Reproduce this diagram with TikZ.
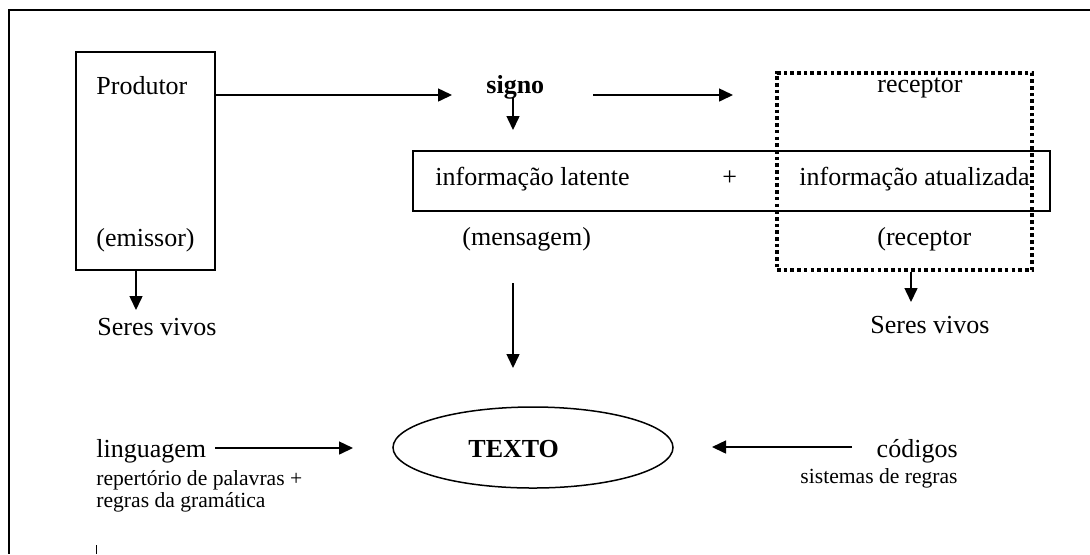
\documentclass[tikz,border=0pt]{standalone}
\usepackage{fontspec}
\setmainfont{Liberation Serif}
\usetikzlibrary{arrows.meta,shapes.geometric,fit}
\begin{document}
\begin{tikzpicture}[x=0.5pt,y=-0.5pt,
  lbl/.style={font=\fontsize{13}{15}\selectfont, inner sep=0, anchor=base west},
  bold/.style={lbl, font=\fontsize{13}{15}\selectfont\bfseries},
  small/.style={font=\fontsize{10.8}{13}\selectfont, inner sep=0, anchor=base west},
  arr/.style={-{Triangle[length=7pt,width=6.5pt]}, line width=0.75pt},
  box/.style={draw, line width=1pt, inner sep=0},
  dotbox/.style={draw, line width=1.8pt, dash pattern=on 1.8pt off 1.55pt, inner sep=0}]
\useasboundingbox (0,0) rectangle (1090,554);

% page frame (top and left edges) and the stray cursor mark
\draw[line width=0.6pt] (1090,10) -- (9,10) -- (9,554);
\draw[line width=0.4pt] (96,545) -- (96,554);

% producer box
\node[box, fit={(76,52)(215,270)}] (prod) {};
\node[lbl] (produtor) at (96,94) {Produtor};
\node[lbl] (emissor) at (96,246) {(emissor)};

% sign and information strip
\node[bold] (signo) at (486,93) {signo};
\node[box, line width=0.75pt, fit={(413,151)(1050,211)}] (info) {};
\node[lbl] (latente) at (435,185) {informação latente};
\node[lbl] (plus) at (722,185) {+};
\node[lbl] (atual) at (799,185) {informação atualizada};
\node[lbl] (mensagem) at (462,245) {(mensagem)};

% receiver (dotted frame)
\node[dotbox, fit={(777,73)(1032,270)}] (recbox) {};
\node[lbl] (receptor) at (877,92) {receptor};
\node[lbl] (receptor2) at (877,245) {(receptor};

% living beings
\node[lbl] (seresL) at (97,335) {Seres vivos};
\node[lbl] (seresR) at (870,333) {Seres vivos};

% text ellipse
\node[ellipse, draw, line width=0.75pt, minimum width=140pt, minimum height=40.5pt, inner sep=0] (texto) at (533,447.5) {};
\node[bold] (textolbl) at (468,457) {TEXTO};

% language and codes
\node[lbl] (ling) at (96,457) {linguagem};
\node[small] (rep) at (96,485) {repertório de palavras +};
\node[small] (gram) at (96,507) {regras da gramática};
\node[lbl, anchor=base east] (cod) at (958,457) {códigos};
\node[small, anchor=base east] (sist) at (958,483) {sistemas de regras};

% connector end points
\coordinate (a1e) at (452,95);
\coordinate (a2s) at (593,95);
\coordinate (a2e) at (733,95);
\coordinate (a3s) at (513,97);
\coordinate (a3e) at (513,130);
\coordinate (a4e) at (136,310);
\coordinate (a5e) at (911,302);
\coordinate (a6s) at (513,283);
\coordinate (a6e) at (513,368);
\coordinate (a7s) at (215,448);
\coordinate (a7e) at (353,448);
\coordinate (a8s) at (852,447);
\coordinate (a8e) at (712,447);

% connectors
\draw[arr] (prod.east |- a1e) -- (a1e);
\draw[arr] (a2s) -- (a2e);
\draw[arr] (a3s) -- (a3e);
\draw[arr] (a4e |- prod.south) -- (a4e);
\draw[arr] (a5e |- recbox.south) -- (a5e);
\draw[arr] (a6s) -- (a6e);
\draw[arr] (a7s) -- (a7e);
\draw[arr] (a8s) -- (a8e);
\end{tikzpicture}
\end{document}
